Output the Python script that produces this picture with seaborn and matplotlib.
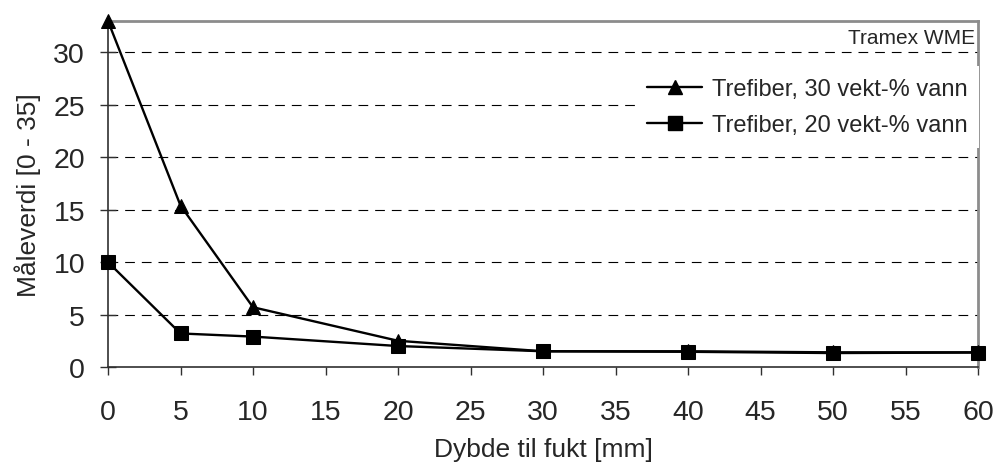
import matplotlib
matplotlib.use("Agg")
import matplotlib.pyplot as plt
import seaborn as sns
import pandas as pd
from matplotlib.lines import Line2D

depth = [0, 5, 10, 20, 30, 40, 50, 60]
tri_vals = [33, 15.4, 5.7, 2.5, 1.5, 1.5, 1.4, 1.4]
sq_vals = [10, 3.2, 2.9, 2.0, 1.5, 1.45, 1.33, 1.38]
series_names = ["Trefiber, 30 vekt-% vann", "Trefiber, 20 vekt-% vann"]
yticks = [0, 5, 10, 15, 20, 25, 30]
xticks = list(range(0, 65, 5))
xlabel = "Dybde til fukt [mm]"
ylabel = "Måleverdi [0 - 35]"
note = "Tramex WME"

sns.set_style("white")
plt.rcParams['font.family'] = ['Liberation Sans', 'DejaVu Sans']
plt.rcParams['lines.scale_dashes'] = False

df = pd.DataFrame({
    "x": depth * 2,
    "y": tri_vals + sq_vals,
    "s": [series_names[0]] * len(depth) + [series_names[1]] * len(depth),
})

W, H = 997, 464
fig = plt.figure(figsize=(W / 100, H / 100), dpi=100)
ax = fig.add_axes([108 / W, 96 / H, 870 / W, 346 / H])

for yv in yticks[1:]:
    ax.axhline(yv, color="black", lw=0.8, linestyle=(0, (7, 5)), zorder=0)

sns.lineplot(data=df, x="x", y="y", hue="s", style="s",
             markers={series_names[0]: "^", series_names[1]: "s"},
             dashes=False, palette=["black", "black"], lw=1.7,
             markersize=10.5, markeredgecolor="black", ax=ax, legend=False,
             clip_on=False, zorder=3)

ax.set_xlim(0, 60)
ax.set_ylim(0, 33)
ax.set_xticks(xticks)
ax.set_yticks(yticks)
ax.tick_params(axis="both", labelsize=20.5, width=1, color="#303030",
               bottom=True, left=True)
ax.tick_params(axis="x", direction="out", length=6, pad=17)
ax.tick_params(axis="y", direction="inout", length=12, pad=10.5)
ax.set_xlabel(xlabel, fontsize=19, labelpad=8.5)
ax.set_ylabel(ylabel, fontsize=19, labelpad=9)

for side in ["left", "bottom"]:
    ax.spines[side].set_color("#303030")
    ax.spines[side].set_linewidth(1.2)
for side in ["top", "right"]:
    ax.spines[side].set_color("#8c8c8c")
    ax.spines[side].set_linewidth(2)

ax.text(59.8, 31.4, note, ha="right", va="center", fontsize=15,
        zorder=5)

handles = [Line2D([], [], color="black", lw=1.7, marker="^", markersize=10.5),
           Line2D([], [], color="black", lw=1.7, marker="s", markersize=10.5)]
leg = fig.legend(handles, series_names, loc="upper left",
                 bbox_to_anchor=(635 / W, 1 - 67 / H), fontsize=17,
                 frameon=True, fancybox=False, framealpha=1,
                 edgecolor="white", facecolor="white", borderpad=0.5,
                 borderaxespad=0, handlelength=2.35, handletextpad=0.4,
                 labelspacing=0.62)
leg.get_frame().set_linewidth(0)

fig.savefig("out.png", dpi=100)
